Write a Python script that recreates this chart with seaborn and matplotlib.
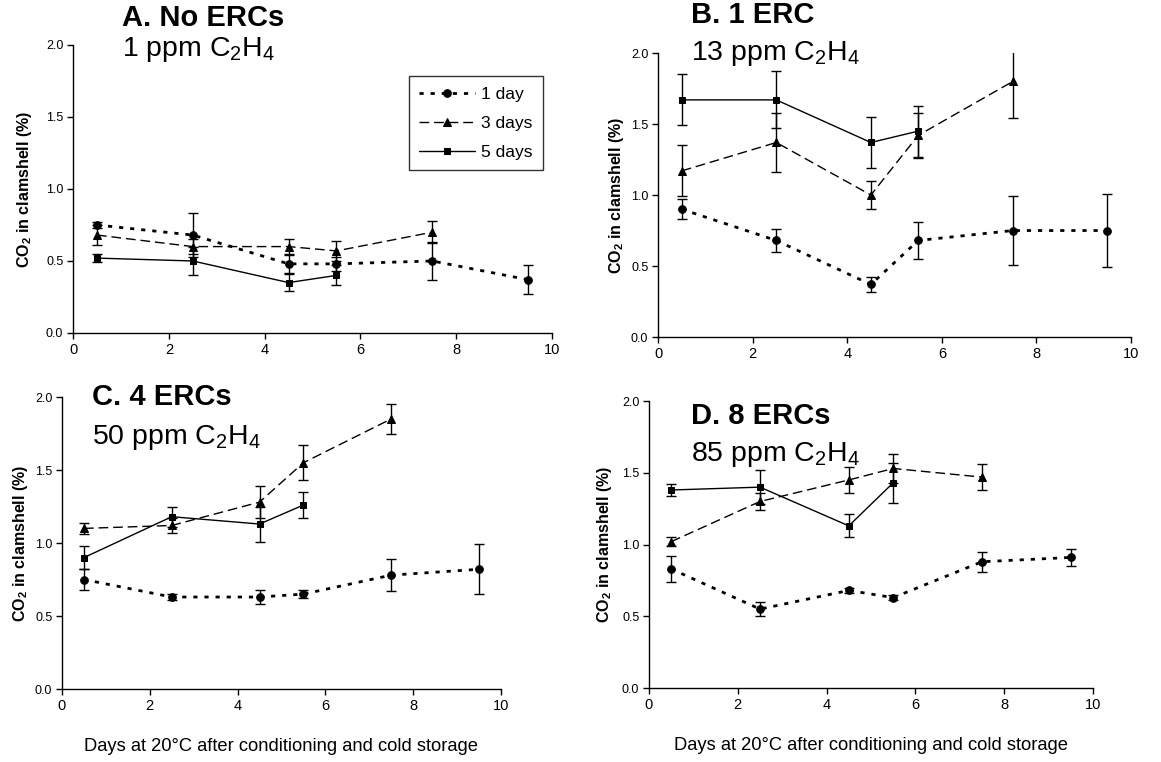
import matplotlib
matplotlib.use("Agg")
import matplotlib.pyplot as plt
import seaborn as sns
import pandas as pd

# Sampling days at 20 °C
days_1d = [0.5, 2.5, 4.5, 5.5, 7.5, 9.5]
days_3d = [0.5, 2.5, 4.5, 5.5, 7.5]
days_5d = [0.5, 2.5, 4.5, 5.5]

# CO2 in clamshell (%) and standard errors, per panel and conditioning time
a_1d = [0.75, 0.68, 0.48, 0.48, 0.50, 0.37]
a_1d_err = [0.02, 0.15, 0.06, 0.05, 0.13, 0.10]
a_3d = [0.68, 0.60, 0.60, 0.57, 0.70]
a_3d_err = [0.07, 0.05, 0.05, 0.07, 0.075]
a_5d = [0.52, 0.50, 0.35, 0.40]
a_5d_err = [0.03, 0.10, 0.06, 0.07]

b_1d = [0.90, 0.68, 0.37, 0.68, 0.75, 0.75]
b_1d_err = [0.07, 0.08, 0.05, 0.13, 0.24, 0.26]
b_3d = [1.17, 1.37, 1.00, 1.42, 1.80]
b_3d_err = [0.18, 0.21, 0.10, 0.16, 0.26]
b_5d = [1.67, 1.67, 1.37, 1.45]
b_5d_err = [0.18, 0.20, 0.18, 0.18]

c_1d = [0.75, 0.63, 0.63, 0.65, 0.78, 0.82]
c_1d_err = [0.07, 0.02, 0.045, 0.025, 0.11, 0.17]
c_3d = [1.10, 1.12, 1.28, 1.55, 1.85]
c_3d_err = [0.04, 0.05, 0.11, 0.12, 0.10]
c_5d = [0.90, 1.18, 1.13, 1.26]
c_5d_err = [0.08, 0.07, 0.12, 0.09]

d_1d = [0.83, 0.55, 0.68, 0.63, 0.88, 0.91]
d_1d_err = [0.09, 0.05, 0.02, 0.02, 0.07, 0.06]
d_3d = [1.02, 1.30, 1.45, 1.53, 1.47]
d_3d_err = [0.03, 0.06, 0.09, 0.10, 0.09]
d_5d = [1.38, 1.40, 1.13, 1.43]
d_5d_err = [0.04, 0.12, 0.08, 0.14]

panel_titles = ["A. No ERCs", "B. 1 ERC", "C. 4 ERCs", "D. 8 ERCs"]
panel_ppm = ["1", "13", "50", "85"]
series_labels = ["1 day", "3 days", "5 days"]
x_label = "Days at 20°C after conditioning and cold storage"
y_label = r"CO$_\mathbf{2}$ in clamshell (%)"
x_ticks = [0, 2, 4, 6, 8, 10]
y_ticks = [0.0, 0.5, 1.0, 1.5, 2.0]

sns.set_style("ticks")
plt.rcParams["font.family"] = ["Liberation Sans", "DejaVu Sans"]
plt.rcParams["mathtext.fontset"] = "custom"
plt.rcParams["mathtext.rm"] = "Liberation Sans"
plt.rcParams["mathtext.it"] = "Liberation Sans:italic"
plt.rcParams["mathtext.bf"] = "Liberation Sans:bold"
for key in ["text.color", "axes.labelcolor", "xtick.color", "ytick.color",
            "axes.edgecolor"]:
    plt.rcParams[key] = "black"

fig = plt.figure(figsize=(11.61, 7.62), dpi=100)
axes = [
    fig.add_axes([0.0629, 0.5630, 0.4126, 0.3780]),
    fig.add_axes([0.5668, 0.5577, 0.4074, 0.3727]),
    fig.add_axes([0.0534, 0.0958, 0.3781, 0.3832]),
    fig.add_axes([0.5590, 0.0971, 0.3824, 0.3766]),
]

panels = [
    ((a_1d, a_1d_err), (a_3d, a_3d_err), (a_5d, a_5d_err)),
    ((b_1d, b_1d_err), (b_3d, b_3d_err), (b_5d, b_5d_err)),
    ((c_1d, c_1d_err), (c_3d, c_3d_err), (c_5d, c_5d_err)),
    ((d_1d, d_1d_err), (d_3d, d_3d_err), (d_5d, d_5d_err)),
]
xs = [days_1d, days_3d, days_5d]
styles = [
    dict(marker="o", markersize=5.5, linestyle=(0, (1.5, 2.5)), linewidth=2.0),
    dict(marker="^", markersize=6, linestyle=(0, (7, 3.5)), linewidth=1.0),
    dict(marker="s", markersize=5, linestyle="-", linewidth=1.0),
]

# title / subtitle anchor positions in axes coordinates
title_pos = [(0.102, 1.094, 0.983), (0.070, 1.134, 1.000),
             (0.068, 1.000, 0.863), (0.095, 0.948, 0.812)]
ylabel_x = [-0.082, -0.068, -0.073, -0.079]

for i, ax in enumerate(axes):
    for j, (vals, errs) in enumerate(panels[i]):
        df = pd.DataFrame({"day": xs[j], "co2": vals})
        sns.lineplot(data=df, x="day", y="co2", ax=ax, color="black",
                     markeredgecolor="black", label=series_labels[j],
                     legend=False, **styles[j])
        ax.errorbar(xs[j], vals, yerr=errs, fmt="none", ecolor="black",
                    elinewidth=1.0, capsize=3.5, capthick=1.0)
    ax.set_xlim(0, 10)
    ax.set_ylim(0, 2.0)
    ax.set_xticks(x_ticks)
    ax.set_yticks(y_ticks)
    ax.set_yticklabels([f"{v:.1f}" for v in y_ticks], fontsize=9)
    ax.set_xticklabels([str(v) for v in x_ticks], fontsize=10.5)
    ax.tick_params(axis="both", direction="out", length=4, width=1, pad=3)
    for s in ["left", "bottom"]:
        ax.spines[s].set_linewidth(1.0)
        ax.spines[s].set_color("black")
    sns.despine(ax=ax)
    ax.set_xlabel("")
    ax.set_ylabel(y_label, fontsize=11.5, fontweight="bold")
    ax.yaxis.set_label_coords(ylabel_x[i], 0.5)
    tx, ty, sy = title_pos[i]
    ax.text(tx, ty, panel_titles[i], transform=ax.transAxes, fontsize=21,
            fontweight="bold", va="center", ha="left")
    ax.text(tx, sy, panel_ppm[i] + r" ppm C$_\mathregular{2}$H$_\mathregular{4}$",
            transform=ax.transAxes, fontsize=20.5, va="center", ha="left")
    if i >= 2:
        ax.set_xlabel(x_label, fontsize=13.2, labelpad=18)

handles, labels = axes[0].get_legend_handles_labels()
leg = axes[0].legend(handles, labels, loc="upper left",
                     bbox_to_anchor=(0.701, 0.892), borderaxespad=0,
                     fontsize=12.5, frameon=True,
                     fancybox=False, edgecolor="black", handlelength=3.2,
                     labelspacing=0.8, borderpad=0.6, handletextpad=0.35)
leg.get_frame().set_linewidth(1.0)

fig.savefig("out.png", dpi=100)
